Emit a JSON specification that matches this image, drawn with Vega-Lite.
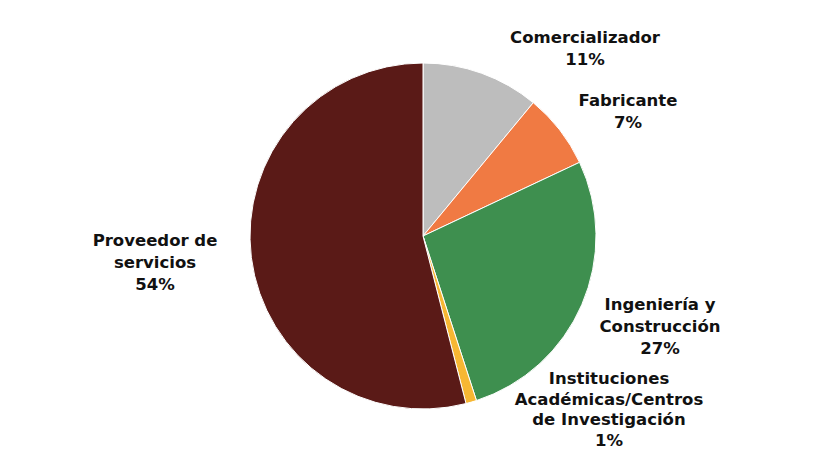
{
  "$schema": "https://vega.github.io/schema/vega-lite/v6.json",
  "width": 821,
  "height": 462,
  "autosize": {"type": "fit", "contains": "padding"},
  "padding": {"left": 25, "top": 10, "right": 0, "bottom": 0},
  "background": "white",
  "view": {"stroke": null},
  "data": {
    "values": [
      {"cat": "Comercializador", "value": 11, "order": 1, "label": "Comercializador|11%"},
      {"cat": "Fabricante", "value": 7, "order": 2, "label": "Fabricante|7%"},
      {"cat": "Ingeniería y Construcción", "value": 27, "order": 3, "label": "Ingeniería y|Construcción|27%"},
      {"cat": "Instituciones Académicas/Centros de Investigación", "value": 1, "order": 4, "label": "Instituciones|Académicas/Centros|de Investigación|1%"},
      {"cat": "Proveedor de servicios", "value": 54, "order": 5, "label": "Proveedor de|servicios|54%"}
    ]
  },
  "encoding": {
    "theta": {"field": "value", "type": "quantitative", "stack": true},
    "order": {"field": "order", "type": "quantitative"}
  },
  "layer": [
    {
      "mark": {"type": "arc", "outerRadius": 173, "stroke": "white", "strokeWidth": 1},
      "encoding": {
        "color": {
          "field": "cat",
          "type": "nominal",
          "scale": {
            "domain": ["Comercializador", "Fabricante", "Ingeniería y Construcción", "Instituciones Académicas/Centros de Investigación", "Proveedor de servicios"],
            "range": ["#bdbdbd", "#f07a43", "#3e8f4f", "#f7b733", "#5a1a17"]
          },
          "legend": null
        }
      }
    },
    {
      "mark": {"type": "text", "radius": 0, "dx": 162, "dy": -198, "font": "DejaVu Sans", "fontWeight": "bold", "fontSize": 16.5, "lineBreak": "|", "lineHeight": 22, "align": "center", "baseline": "middle", "color": "#111"},
      "encoding": {"text": {"condition": {"test": "datum.order == 1", "field": "label"}, "value": ""}}
    },
    {
      "mark": {"type": "text", "radius": 0, "dx": 205, "dy": -135, "font": "DejaVu Sans", "fontWeight": "bold", "fontSize": 16.5, "lineBreak": "|", "lineHeight": 22, "align": "center", "baseline": "middle", "color": "#111"},
      "encoding": {"text": {"condition": {"test": "datum.order == 2", "field": "label"}, "value": ""}}
    },
    {
      "mark": {"type": "text", "radius": 0, "dx": 237, "dy": 69, "font": "DejaVu Sans", "fontWeight": "bold", "fontSize": 16.5, "lineBreak": "|", "lineHeight": 22, "align": "center", "baseline": "middle", "color": "#111"},
      "encoding": {"text": {"condition": {"test": "datum.order == 3", "field": "label"}, "value": ""}}
    },
    {
      "mark": {"type": "text", "radius": 0, "dx": 186, "dy": 143, "font": "DejaVu Sans", "fontWeight": "bold", "fontSize": 16.5, "lineBreak": "|", "lineHeight": 20.7, "align": "center", "baseline": "middle", "color": "#111"},
      "encoding": {"text": {"condition": {"test": "datum.order == 4", "field": "label"}, "value": ""}}
    },
    {
      "mark": {"type": "text", "radius": 0, "dx": -268, "dy": 5, "font": "DejaVu Sans", "fontWeight": "bold", "fontSize": 16.5, "lineBreak": "|", "lineHeight": 22, "align": "center", "baseline": "middle", "color": "#111"},
      "encoding": {"text": {"condition": {"test": "datum.order == 5", "field": "label"}, "value": ""}}
    }
  ]
}
